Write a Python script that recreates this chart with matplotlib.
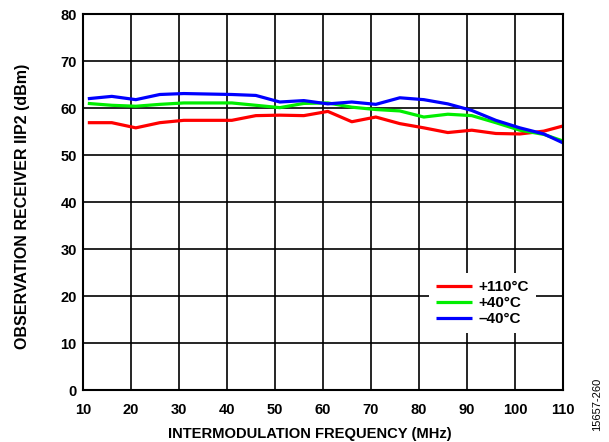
import matplotlib
matplotlib.use("Agg")
import matplotlib.pyplot as plt

freq = [11, 16, 21, 26, 31, 36, 41, 46, 51, 56, 61, 66, 71, 76, 81, 86, 91, 96, 101, 106, 110]
iip2_p110 = [56.9, 56.9, 55.8, 56.9, 57.4, 57.4, 57.4, 58.4, 58.5, 58.4, 59.3, 57.1, 58.1, 56.7, 55.8, 54.8, 55.3, 54.6, 54.5, 55.1, 56.2]
iip2_p40 = [61.0, 60.6, 60.4, 60.8, 61.1, 61.1, 61.1, 60.6, 60.1, 61.0, 61.1, 60.2, 59.7, 59.4, 58.1, 58.7, 58.4, 56.9, 55.3, 54.4, 53.0]
iip2_m40 = [62.0, 62.5, 61.8, 62.9, 63.1, 63.0, 62.9, 62.7, 61.3, 61.6, 60.9, 61.3, 60.8, 62.2, 61.8, 60.9, 59.5, 57.4, 55.8, 54.5, 52.6]
labels = ["+110°C", "+40°C", "\u201340°C"]
colors = ["#ff0000", "#00ee00", "#0000ff"]

plt.rcParams['font.family'] = ['Liberation Sans', 'DejaVu Sans']
plt.rcParams['font.weight'] = 'bold'

fig = plt.figure(figsize=(6.09, 4.42), dpi=100)
ax = fig.add_axes([0.1363, 0.1176, 0.7882, 0.8504])

for y, lab, c in zip([iip2_p110, iip2_p40, iip2_m40], labels, colors):
    ax.plot(freq, y, color=c, lw=2.3, label=lab, solid_capstyle='butt')

ax.set_xlim(10, 110)
ax.set_ylim(0, 80)
ax.set_xticks(range(10, 111, 10))
ax.set_yticks(range(0, 81, 10))
ax.grid(True, color='black', lw=1.2)
ax.set_axisbelow(True)
for s in ax.spines.values():
    s.set_linewidth(1.5)
ax.tick_params(length=0, labelsize=10.5)
ax.tick_params(axis='x', pad=9)
ax.tick_params(axis='y', pad=4.5)
for t in ax.get_xticklabels() + ax.get_yticklabels():
    t.set_fontweight('bold')

ax.set_xlabel("INTERMODULATION FREQUENCY (MHz)", fontsize=10.6, fontweight='bold')
ax.set_ylabel("OBSERVATION RECEIVER IIP2 (dBm)", fontsize=11.5, fontweight='bold')
ax.xaxis.set_label_coords(0.473, -0.0976)
ax.yaxis.set_label_coords(-0.110, 0.4875)

leg = ax.legend(loc='center', bbox_to_anchor=(0.832, 0.231), frameon=True, fontsize=11,
                handlelength=2.4, handletextpad=0.4, labelspacing=0.15, borderpad=0.45,
                borderaxespad=0)
leg.get_frame().set_edgecolor('none')
leg.get_frame().set_facecolor('white')
leg.get_frame().set_alpha(1)
leg.get_frame().set_boxstyle('square', pad=0)
for t in leg.get_texts():
    t.set_fontweight('bold')

fig.text(0.980, 0.086, "15657-260", rotation=90, fontsize=8, fontweight='normal', ha='center', va='center')

fig.savefig("out.png", dpi=100)
